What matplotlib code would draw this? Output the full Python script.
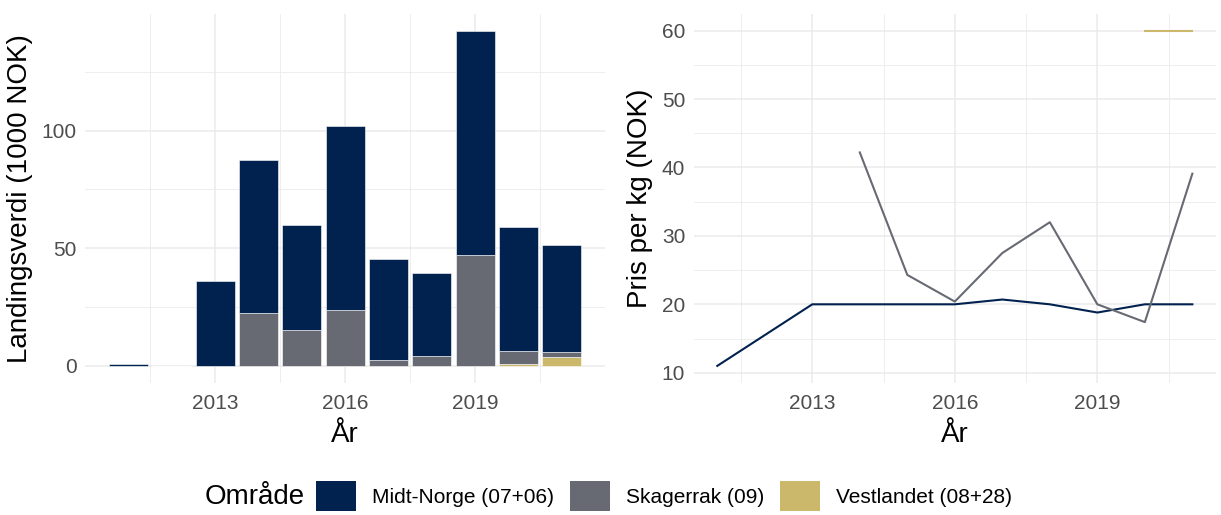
import matplotlib.pyplot as plt
from matplotlib.patches import Patch
import numpy as np

years = [2011, 2012, 2013, 2014, 2015, 2016, 2017, 2018, 2019, 2020, 2021]

# landingsverdi (1000 NOK) per område
midt_verdi = [1.0, 0, 36.0, 65.2, 44.7, 78.2, 42.9, 35.3, 95.3, 52.7, 45.5]
skag_verdi = [0, 0, 0, 22.5, 15.3, 23.8, 2.6, 4.3, 47.2, 5.6, 2.4]
vest_verdi = [0, 0, 0, 0, 0, 0, 0, 0, 0, 0.8, 3.6]

# pris per kg (NOK)
midt_years = [2011, 2013, 2014, 2015, 2016, 2017, 2018, 2019, 2020, 2021]
midt_pris = [11.0, 20.0, 20.0, 20.0, 20.0, 20.7, 20.0, 18.8, 20.0, 20.0]
skag_years = [2014, 2015, 2016, 2017, 2018, 2019, 2020, 2021]
skag_pris = [42.2, 24.3, 20.4, 27.5, 32.0, 20.0, 17.4, 39.1]
vest_years = [2020, 2021]
vest_pris = [60.0, 60.0]

labels = ['Midt-Norge (07+06)', 'Skagerrak (09)', 'Vestlandet (08+28)']
colors = ['#01214e', '#676a72', '#cbb86b']


def style_axes(ax):
    ax.set_facecolor('white')
    for s in ax.spines.values():
        s.set_visible(False)
    ax.grid(True, which='major', color='#ebebeb', linewidth=1.1)
    ax.grid(True, which='minor', color='#ebebeb', linewidth=0.6)
    ax.set_axisbelow(True)
    ax.tick_params(which='both', length=0, labelsize=15, labelcolor='#4d4d4d')
    ax.tick_params(axis='x', pad=8)
    ax.tick_params(axis='y', pad=6)


def main():
    plt.rcParams['font.family'] = ['Liberation Sans', 'DejaVu Sans']
    fig = plt.figure(figsize=(12.21, 5.15), dpi=100)

    # venstre panel - stablede søyler
    ax1 = fig.add_axes([0.0696, 0.257, 0.426, 0.716])
    style_axes(ax1)
    bottom = np.zeros(len(years))
    for vals, c in zip([vest_verdi, skag_verdi, midt_verdi], [colors[2], colors[1], colors[0]]):
        v = np.array(vals)
        ax1.bar(years, v, bottom=bottom, width=0.9, color=c, edgecolor='white', linewidth=0.4)
        bottom += v
    ax1.set_xlim(2010.0, 2022.0)
    ax1.set_ylim(-7.1, 149.6)
    ax1.set_xticks([2013, 2016, 2019])
    ax1.set_xticks([2011.5, 2014.5, 2017.5, 2020.5], minor=True)
    ax1.set_yticks([0, 50, 100])
    ax1.set_yticks([25, 75, 125], minor=True)
    ax1.set_xlabel('År', fontsize=20, labelpad=7)
    ax1.set_ylabel('Landingsverdi (1000 NOK)', fontsize=20, labelpad=6)

    # høyre panel - pris per kg
    ax2 = fig.add_axes([0.568, 0.257, 0.428, 0.716])
    style_axes(ax2)
    ax2.plot(midt_years, midt_pris, color=colors[0], linewidth=1.5)
    ax2.plot(skag_years, skag_pris, color=colors[1], linewidth=1.5)
    ax2.plot(vest_years, vest_pris, color=colors[2], linewidth=1.5)
    ax2.set_xlim(2010.5, 2021.5)
    ax2.set_ylim(8.55, 62.45)
    ax2.set_xticks([2013, 2016, 2019])
    ax2.set_xticks([2011.5, 2014.5, 2017.5, 2020.5], minor=True)
    ax2.set_yticks([10, 20, 30, 40, 50, 60])
    ax2.set_yticks([15, 25, 35, 45, 55], minor=True)
    ax2.set_xlabel('År', fontsize=20, labelpad=7)
    ax2.set_ylabel('Pris per kg (NOK)', fontsize=20, labelpad=6)

    # felles legend nederst
    handles = [Patch(facecolor=c, edgecolor='none') for c in colors]
    fig.text(205 / 1221, 1 - 497 / 515, 'Område', fontsize=20, va='center', ha='left')
    fig.legend(handles, labels, loc='center left', bbox_to_anchor=(306 / 1221, 1 - 496 / 515),
               ncol=3, frameon=False, fontsize=15, handlelength=1.9, handleheight=1.9,
               handletextpad=0.75, columnspacing=0.8, borderpad=0)

    fig.savefig('out.png', dpi=100)


if __name__ == '__main__':
    main()
